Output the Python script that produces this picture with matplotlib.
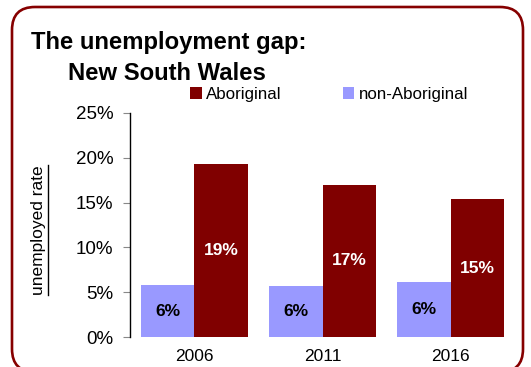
import matplotlib
matplotlib.use("Agg")
import matplotlib.pyplot as plt
import numpy as np
from matplotlib.patches import FancyBboxPatch
from matplotlib.lines import Line2D
from matplotlib.transforms import IdentityTransform
from matplotlib.ticker import FuncFormatter

plt.rcParams['font.family'] = ['Liberation Sans', 'DejaVu Sans']

years = ['2006', '2011', '2016']
aboriginal = [19.3, 17.0, 15.4]
non_aboriginal = [5.8, 5.7, 6.1]
series_names = ['Aboriginal', 'non-Aboriginal']
y_ticks = [0, 5, 10, 15, 20, 25]

c_abor = '#800000'
c_non = '#9999ff'
c_frame = '#860000'

W, H = 531, 367
fig = plt.figure(figsize=(W / 100, H / 100), dpi=100)
fig.patch.set_facecolor('white')

# rounded border around the whole chart (pixel coordinates)
frame = FancyBboxPatch((12, H - 372), 511, 365,
                       boxstyle='round,pad=0,rounding_size=23',
                       transform=IdentityTransform(), fill=False,
                       edgecolor=c_frame, linewidth=1.9, clip_on=False)
fig.add_artist(frame)

ax = fig.add_axes([130 / W, (H - 337) / H, 385 / W, 224 / H])
x = np.arange(len(years))
bw = 0.416
b_non = ax.bar(x - bw / 2, non_aboriginal, bw, color=c_non, label=series_names[1])
b_ab = ax.bar(x + bw / 2, aboriginal, bw, color=c_abor, label=series_names[0])

ax.bar_label(b_non, fmt='%.0f%%', label_type='center', color='black',
             fontweight='bold', fontsize=12.5)
ax.bar_label(b_ab, fmt='%.0f%%', label_type='center', color='white',
             fontweight='bold', fontsize=12.5)

ax.set_xlim(-0.5, 2.5)
ax.set_ylim(0, 25)
ax.set_yticks(y_ticks)
ax.yaxis.set_major_formatter(FuncFormatter(lambda v, p: f'{v:.0f}%'))
ax.set_xticks(x)
ax.set_xticklabels(years)
for s in ['top', 'right', 'bottom']:
    ax.spines[s].set_visible(False)
ax.spines['left'].set_color('black')
ax.spines['left'].set_linewidth(1.0)
ax.tick_params(axis='y', length=5, width=0.8, color='#888888',
               labelsize=13.5, pad=7)
ax.tick_params(axis='x', length=0, labelsize=12.5, pad=8.5)

# title
fig.text(31 / W, (H - 49) / H, 'The unemployment gap:', fontsize=17.2,
         fontweight='bold', ha='left', va='baseline')
fig.text(68 / W, (H - 80) / H, 'New South Wales', fontsize=17.2,
         fontweight='bold', ha='left', va='baseline')

# legend
fig.legend(handles=[b_ab, b_non], labels=series_names, ncol=2,
           loc='center left', bbox_to_anchor=(190 / W, (H - 94) / H),
           frameon=False, fontsize=12.2, handlelength=0.7, handleheight=0.7,
           handletextpad=0.25, columnspacing=3.6, borderpad=0,
           borderaxespad=0)

# underlined axis caption
ylab = fig.text(38.5 / W, (H - 230) / H, 'unemployed rate', rotation=90,
                fontsize=12.5, ha='center', va='center')
fig.canvas.draw()
bb = ylab.get_window_extent()
ux = bb.x1 + 2
fig.add_artist(Line2D([ux, ux], [bb.y0, bb.y1], transform=IdentityTransform(),
                      color='black', linewidth=1.0))

fig.savefig('out.png', dpi=100)
